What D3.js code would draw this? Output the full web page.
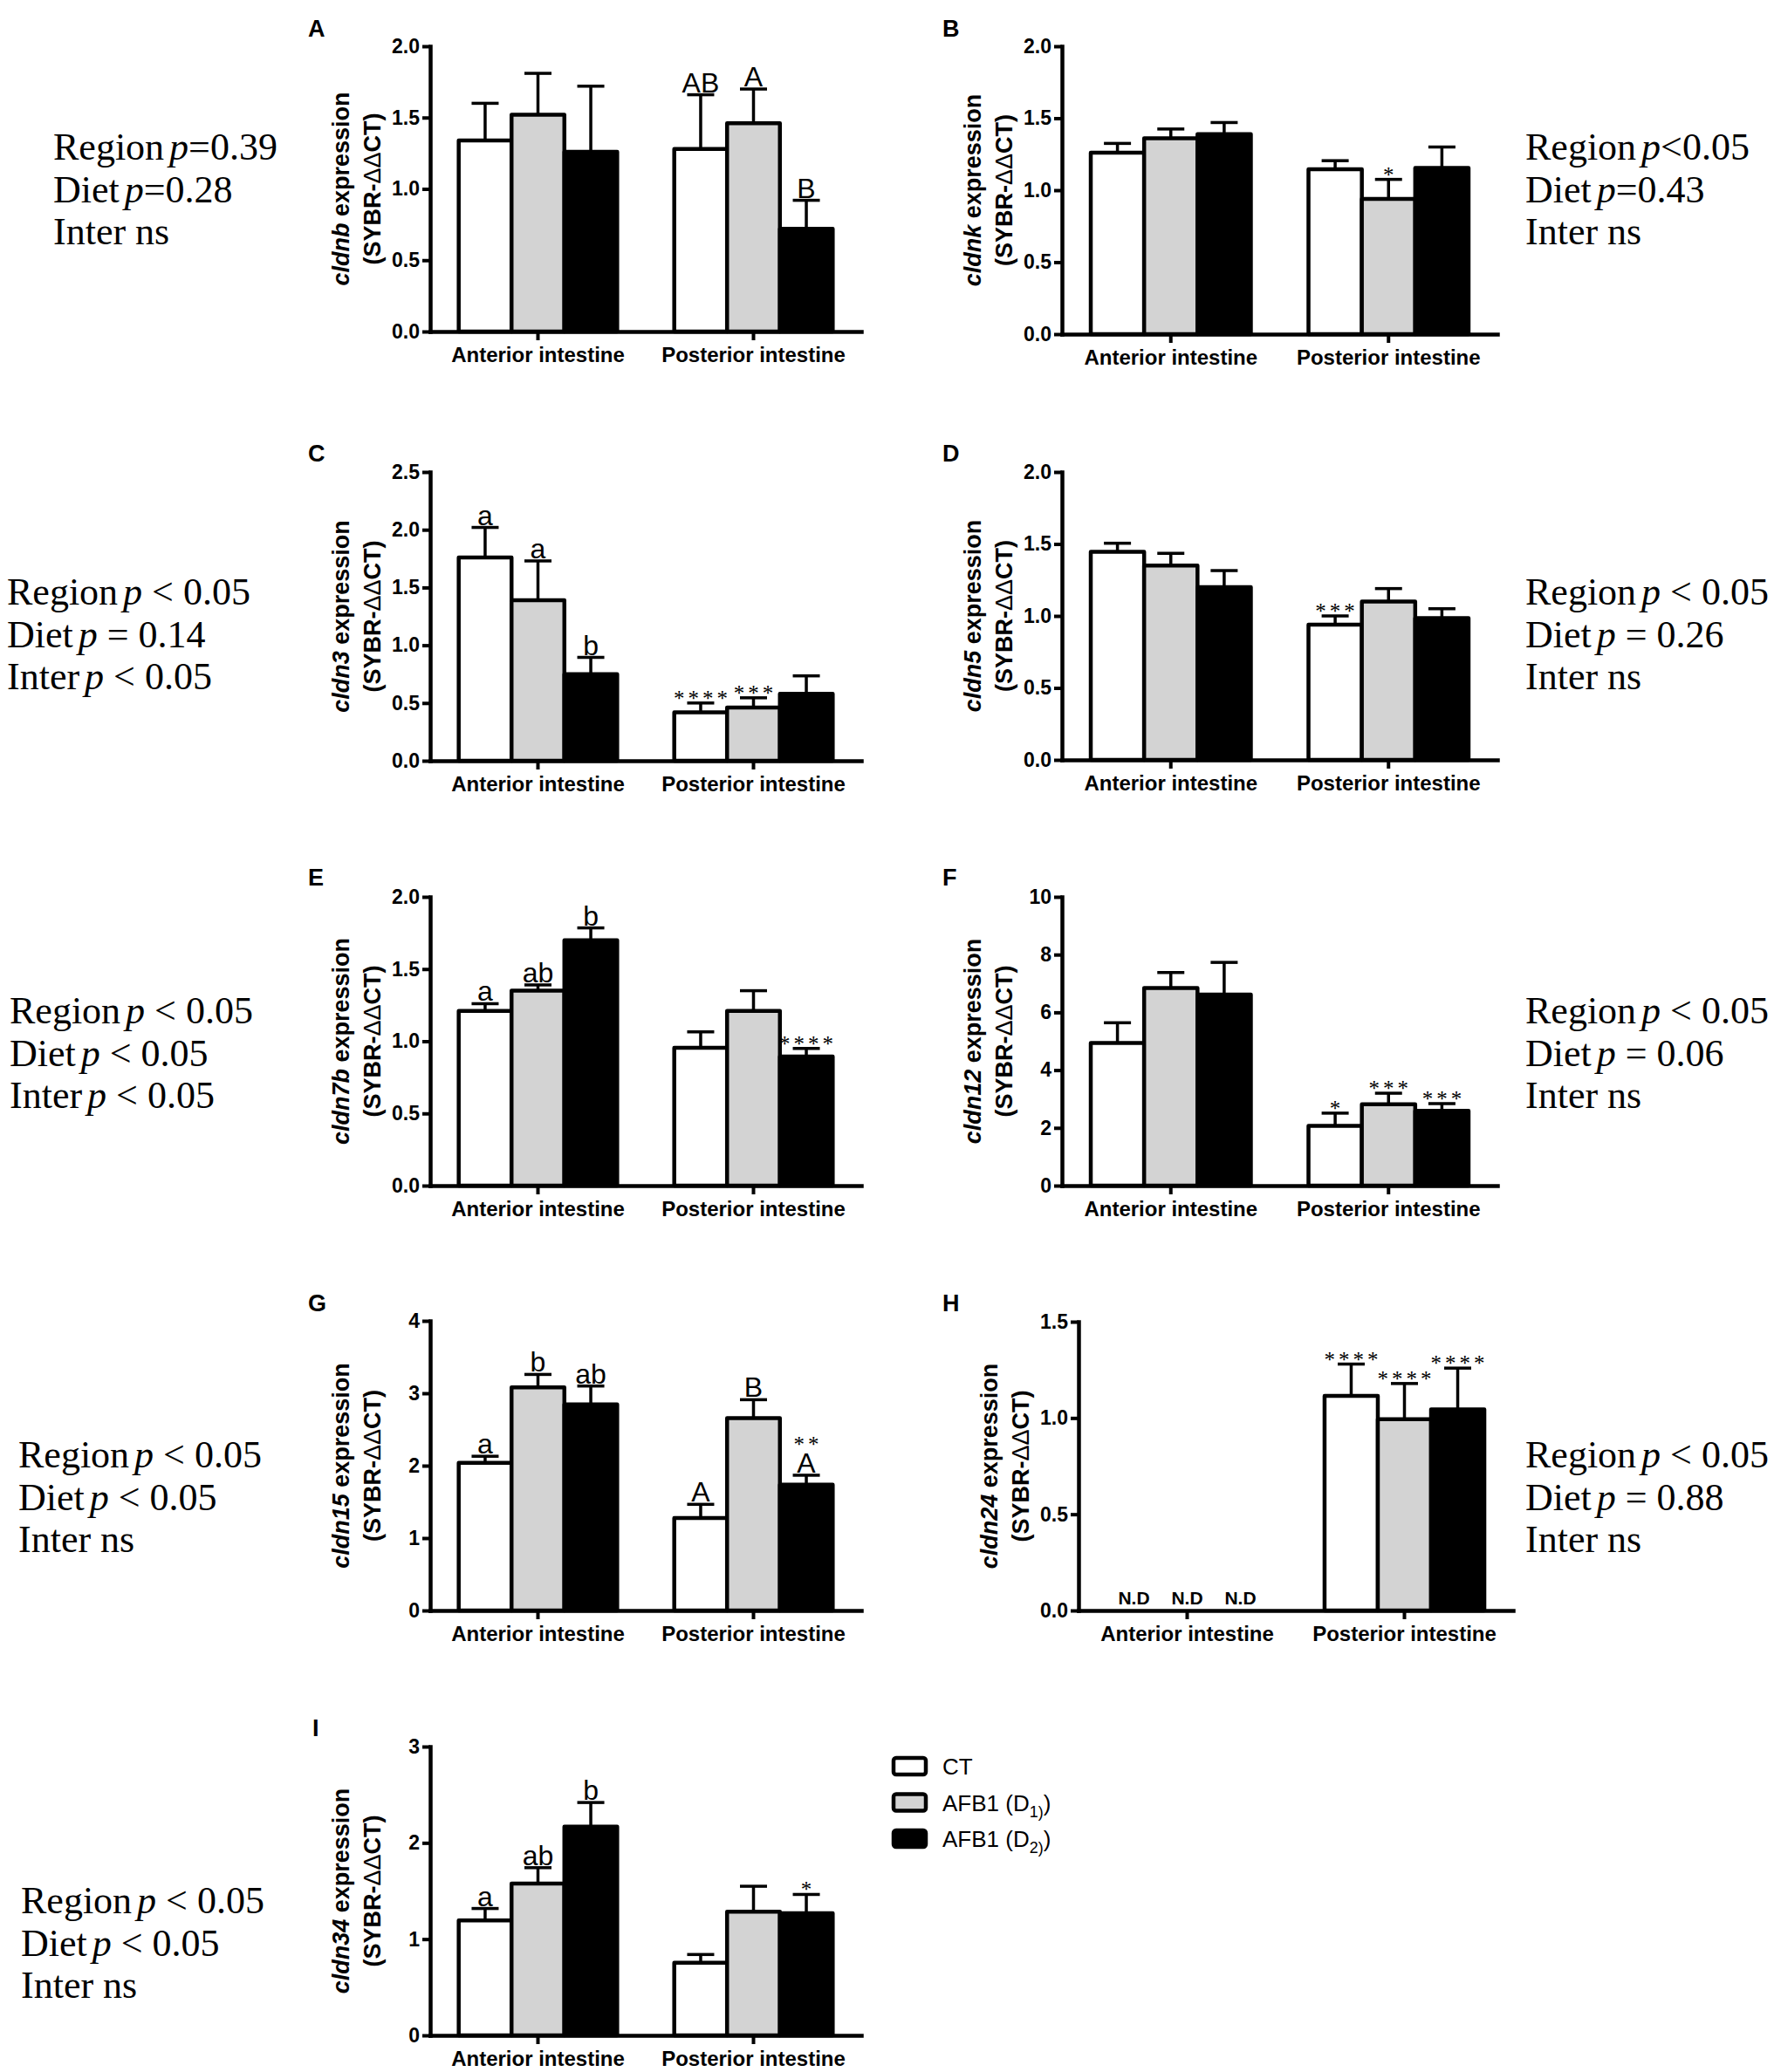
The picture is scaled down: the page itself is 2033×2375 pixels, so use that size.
<!DOCTYPE html>
<html>
<head>
<meta charset="utf-8">
<script src="https://cdn.jsdelivr.net/npm/d3@7"></script>
<style>
  body { margin: 0; background: #fff; }
  svg text { font-family: "Liberation Sans", Arial, sans-serif; }
</style>
</head>
<body>
<script>
// categories, groups, legend
const categories = ['Anterior intestine', 'Posterior intestine'];
const groups = ['CT', 'AFB1 (D1)', 'AFB1 (D2)'];
const legendLabels = ['CT', 'AFB1 (D_1)', 'AFB1 (D_2)'];

const panelLetters = ['A', 'B', 'C', 'D', 'E', 'F', 'G', 'H', 'I'];
const genes = ['cldnb', 'cldnk', 'cldn3', 'cldn5', 'cldn7b', 'cldn12', 'cldn15', 'cldn24', 'cldn34'];

// y tick labels of each panel
const ticksA = [0, 0.5, 1.0, 1.5, 2.0];
const ticksB = [0, 0.5, 1.0, 1.5, 2.0];
const ticksC = [0, 0.5, 1.0, 1.5, 2.0, 2.5];
const ticksD = [0, 0.5, 1.0, 1.5, 2.0];
const ticksE = [0, 0.5, 1.0, 1.5, 2.0];
const ticksF = [0, 2, 4, 6, 8, 10];
const ticksG = [0, 1, 2, 3, 4];
const ticksH = [0, 0.5, 1.0, 1.5];
const ticksI = [0, 1, 2, 3];

// means and SEM, rows = categories, columns = groups
const cldnbMean = [[1.34, 1.52, 1.26], [1.28, 1.46, 0.72]];
const cldnbSem  = [[0.26, 0.29, 0.46], [0.38, 0.24, 0.20]];
const cldnkMean = [[1.26, 1.36, 1.39], [1.145, 0.94, 1.155]];
const cldnkSem  = [[0.065, 0.065, 0.08], [0.06, 0.135, 0.145]];
const cldn3Mean = [[1.76, 1.39, 0.75], [0.42, 0.46, 0.58]];
const cldn3Sem  = [[0.26, 0.34, 0.145], [0.08, 0.085, 0.155]];
const cldn5Mean = [[1.445, 1.35, 1.20], [0.94, 1.10, 0.985]];
const cldn5Sem  = [[0.06, 0.085, 0.115], [0.06, 0.09, 0.065]];
const cldn7bMean = [[1.21, 1.35, 1.70], [0.955, 1.21, 0.895]];
const cldn7bSem  = [[0.05, 0.04, 0.085], [0.11, 0.14, 0.055]];
const cldn12Mean = [[4.94, 6.84, 6.62], [2.07, 2.82, 2.59]];
const cldn12Sem  = [[0.70, 0.54, 1.11], [0.44, 0.38, 0.25]];
const cldn15Mean = [[2.04, 3.08, 2.845], [1.276, 2.656, 1.738]];
const cldn15Sem  = [[0.09, 0.18, 0.255], [0.19, 0.255, 0.13]];
const cldn24Mean = [[null, null, null], [1.115, 0.994, 1.044]];
const cldn24Sem  = [[null, null, null], [0.165, 0.185, 0.215]];
const cldn34Mean = [[1.193, 1.577, 2.169], [0.755, 1.284, 1.269]];
const cldn34Sem  = [[0.125, 0.165, 0.25], [0.085, 0.265, 0.195]];

// letters and stars over the bars
const noMarks = [['', '', ''], ['', '', '']];
const cldnbLetters  = [['', '', ''], ['AB', 'A', 'B']];
const cldn3Letters  = [['a', 'a', 'b'], ['', '', '']];
const cldn7bLetters = [['a', 'ab', 'b'], ['', '', '']];
const cldn15Letters = [['a', 'b', 'ab'], ['A', 'B', 'A']];
const cldn34Letters = [['a', 'ab', 'b'], ['', '', '']];

const cldnkStars  = [['', '', ''], ['', '*', '']];
const cldn3Stars  = [['', '', ''], ['****', '***', '']];
const cldn5Stars  = [['', '', ''], ['***', '', '']];
const cldn7bStars = [['', '', ''], ['', '', '****']];
const cldn12Stars = [['', '', ''], ['*', '***', '***']];
const cldn15Stars = [['', '', ''], ['', '', '**']];
const cldn24Stars = [['', '', ''], ['****', '****', '****']];
const cldn34Stars = [['', '', ''], ['', '', '*']];

// two-way ANOVA texts
const statsA = ['Region p=0.39', 'Diet p=0.28', 'Inter ns'];
const statsB = ['Region p<0.05', 'Diet p=0.43', 'Inter ns'];
const statsC = ['Region p < 0.05', 'Diet p = 0.14', 'Inter p < 0.05'];
const statsD = ['Region p < 0.05', 'Diet p = 0.26', 'Inter ns'];
const statsE = ['Region p < 0.05', 'Diet p < 0.05', 'Inter p < 0.05'];
const statsF = ['Region p < 0.05', 'Diet p = 0.06', 'Inter ns'];
const statsG = ['Region p < 0.05', 'Diet p < 0.05', 'Inter ns'];
const statsH = ['Region p < 0.05', 'Diet p = 0.88', 'Inter ns'];
const statsI = ['Region p < 0.05', 'Diet p < 0.05', 'Inter ns'];

const tickSets = [ticksA, ticksB, ticksC, ticksD, ticksE, ticksF, ticksG, ticksH, ticksI];
const means = [cldnbMean, cldnkMean, cldn3Mean, cldn5Mean, cldn7bMean, cldn12Mean, cldn15Mean, cldn24Mean, cldn34Mean];
const sems = [cldnbSem, cldnkSem, cldn3Sem, cldn5Sem, cldn7bSem, cldn12Sem, cldn15Sem, cldn24Sem, cldn34Sem];
const letterSets = [cldnbLetters, noMarks, cldn3Letters, noMarks, cldn7bLetters, noMarks, cldn15Letters, noMarks, cldn34Letters];
const starSets = [noMarks, cldnkStars, cldn3Stars, cldn5Stars, cldn7bStars, cldn12Stars, cldn15Stars, cldn24Stars, cldn34Stars];
const statSets = [statsA, statsB, statsC, statsD, statsE, statsF, statsG, statsH, statsI];

// page layout (pixels)
const layout = [
  {x: 493,  y: 53,   w: 494, h: 327, lx: 353,  ly: 42,   sx: 61,   sy: 183},
  {x: 1217, y: 53,   w: 499, h: 330, lx: 1080, ly: 42,   sx: 1748, sy: 183},
  {x: 493,  y: 541,  w: 494, h: 331, lx: 353,  ly: 529,  sx: 8,    sy: 693},
  {x: 1217, y: 541,  w: 499, h: 330, lx: 1080, ly: 529,  sx: 1748, sy: 693},
  {x: 493,  y: 1028, w: 494, h: 331, lx: 353,  ly: 1015, sx: 11,   sy: 1173},
  {x: 1217, y: 1028, w: 499, h: 331, lx: 1080, ly: 1015, sx: 1748, sy: 1173},
  {x: 493,  y: 1514, w: 494, h: 332, lx: 353,  ly: 1503, sx: 21,   sy: 1682},
  {x: 1236, y: 1515, w: 498, h: 331, lx: 1080, ly: 1503, sx: 1748, sy: 1682},
  {x: 493,  y: 2002, w: 494, h: 331, lx: 358,  ly: 1990, sx: 24,   sy: 2193}
];

const fills = ['#ffffff', '#d3d3d3', '#000000'];
const capWidth = 31;

const width = 2033,
    height = 2375;

let svg = d3.select('body')
    .append('svg')
    .attr('width', width)
    .attr('height', height);

svg.append('rect')
    .attr('width', width)
    .attr('height', height)
    .attr('fill', '#fff');

// "Region p < 0.05" -> p in italics
function statLine(str, x, y) {
    let t = svg.append('text')
        .attr('x', x)
        .attr('y', y)
        .style('font-family', '"Liberation Serif", "Times New Roman", serif')
        .style('font-size', '44px')
        .style('white-space', 'pre');
    let i = str.indexOf(' p');
    if (i < 0) {
        t.text(str);
        return;
    }
    t.append('tspan').text(str.slice(0, i));
    t.append('tspan').attr('dx', 6).style('font-style', 'italic').text('p');
    t.append('tspan').text(str.slice(i + 2));
}

function drawPanel(k) {
    const L = layout[k];
    const ticks = tickSets[k];
    const mean = means[k], sem = sems[k];
    const letters = letterSets[k], stars = starSets[k];

    let g = svg.append('g').attr('transform', `translate(${L.x},${L.y})`);

    let x = d3.scaleBand().domain(categories).range([0, L.w]);
    let xInner = d3.scaleBand().domain(groups).range([0, x.bandwidth()]).paddingOuter(0.54);
    let y = d3.scaleLinear().domain([0, d3.max(ticks)]).range([L.h, 0]);

    let fmt = ticks.some(v => v % 1 !== 0) ? d3.format('.1f') : d3.format('d');

    // bars
    categories.forEach((c, ci) => {
        groups.forEach((gr, gi) => {
            let m = mean[ci][gi];
            let cx = x(c) + xInner(gr) + xInner.bandwidth() / 2;
            if (m === null) {
                g.append('text')
                    .attr('x', cx)
                    .attr('y', L.h - 7)
                    .attr('text-anchor', 'middle')
                    .style('font-weight', 'bold')
                    .style('font-size', '21px')
                    .text('N.D');
                return;
            }
            g.append('rect')
                .attr('x', x(c) + xInner(gr))
                .attr('y', y(m))
                .attr('width', xInner.bandwidth())
                .attr('height', L.h - y(m))
                .attr('fill', fills[gi])
                .attr('stroke', '#000')
                .attr('stroke-width', 4.5)
                .attr('stroke-linejoin', 'round');
        });
    });

    // error bars and marks
    categories.forEach((c, ci) => {
        groups.forEach((gr, gi) => {
            let m = mean[ci][gi];
            if (m === null) return;
            let cx = x(c) + xInner(gr) + xInner.bandwidth() / 2;
            let capY = y(m + sem[ci][gi]);
            g.append('line')
                .attr('x1', cx).attr('x2', cx)
                .attr('y1', y(m)).attr('y2', capY)
                .attr('stroke', '#000').attr('stroke-width', 3.5);
            g.append('line')
                .attr('x1', cx - capWidth / 2).attr('x2', cx + capWidth / 2)
                .attr('y1', capY).attr('y2', capY)
                .attr('stroke', '#000').attr('stroke-width', 3.5);
            let lt = letters[ci][gi], st = stars[ci][gi];
            if (lt) {
                g.append('text')
                    .attr('x', cx)
                    .attr('y', capY - 3)
                    .attr('text-anchor', 'middle')
                    .style('font-size', '32px')
                    .text(lt);
            }
            if (st) {
                g.append('text')
                    .attr('x', cx + 2)
                    .attr('y', lt ? capY - 27 : capY + 3)
                    .attr('text-anchor', 'middle')
                    .style('font-family', '"Liberation Serif", "Times New Roman", serif')
                    .style('font-size', '25px')
                    .style('letter-spacing', '4px')
                    .text(st);
            }
        });
    });

    // axes
    let yAxis = g.append('g')
        .call(d3.axisLeft(y).tickValues(ticks).tickFormat(fmt).tickSize(9).tickSizeOuter(0).tickPadding(3));
    let xAxis = g.append('g')
        .attr('transform', `translate(0,${L.h})`)
        .call(d3.axisBottom(x).tickSize(10).tickSizeOuter(0).tickPadding(8));

    [yAxis, xAxis].forEach(a => {
        a.select('.domain').attr('stroke-width', 4.5).attr('stroke-linecap', 'square');
        a.selectAll('.tick line').attr('stroke-width', 4);
        a.selectAll('.tick text')
            .style('font-family', '"Liberation Sans", Arial, sans-serif')
            .style('font-weight', 'bold')
            .attr('fill', '#000');
    });
    yAxis.selectAll('.tick text').style('font-size', '23px');
    xAxis.selectAll('.tick text').style('font-size', '24px');

    // y title
    let t1 = g.append('text')
        .attr('transform', `translate(-93,${L.h / 2}) rotate(-90)`)
        .attr('text-anchor', 'middle')
        .style('font-weight', 'bold')
        .style('font-size', '27px');
    t1.append('tspan').style('font-style', 'italic').text(genes[k]);
    t1.append('tspan').text(' expression');

    let t2 = g.append('text')
        .attr('transform', `translate(-57,${L.h / 2}) rotate(-90)`)
        .attr('text-anchor', 'middle')
        .style('font-weight', 'bold')
        .style('font-size', '27px');
    t2.append('tspan').text('(SYBR-');
    t2.append('tspan').style('font-weight', 'normal').text('\u0394\u0394');
    t2.append('tspan').text('CT)');

    // panel letter
    svg.append('text')
        .attr('x', L.lx)
        .attr('y', L.ly)
        .style('font-weight', 'bold')
        .style('font-size', '27px')
        .text(panelLetters[k]);

    // anova text
    statSets[k].forEach((s, i) => statLine(s, L.sx, L.sy + i * 48.5));
}

genes.forEach((gene, k) => drawPanel(k));

// legend
legendLabels.forEach((lab, i) => {
    let ly = 2015 + i * 41.5;
    svg.append('rect')
        .attr('x', 1024)
        .attr('y', ly)
        .attr('width', 37)
        .attr('height', 19)
        .attr('rx', 3)
        .attr('fill', fills[i])
        .attr('stroke', '#000')
        .attr('stroke-width', 4.5);
    let parts = lab.split('_');
    let t = svg.append('text')
        .attr('x', 1080)
        .attr('y', ly + 19)
        .style('font-size', '26px');
    t.append('tspan').text(parts[0]);
    if (parts.length > 1) {
        t.append('tspan').attr('dy', 7).style('font-size', '18px').text(parts[1]);
        t.append('tspan').attr('dy', -7).text(')');
    }
});
</script>
</body>
</html>
